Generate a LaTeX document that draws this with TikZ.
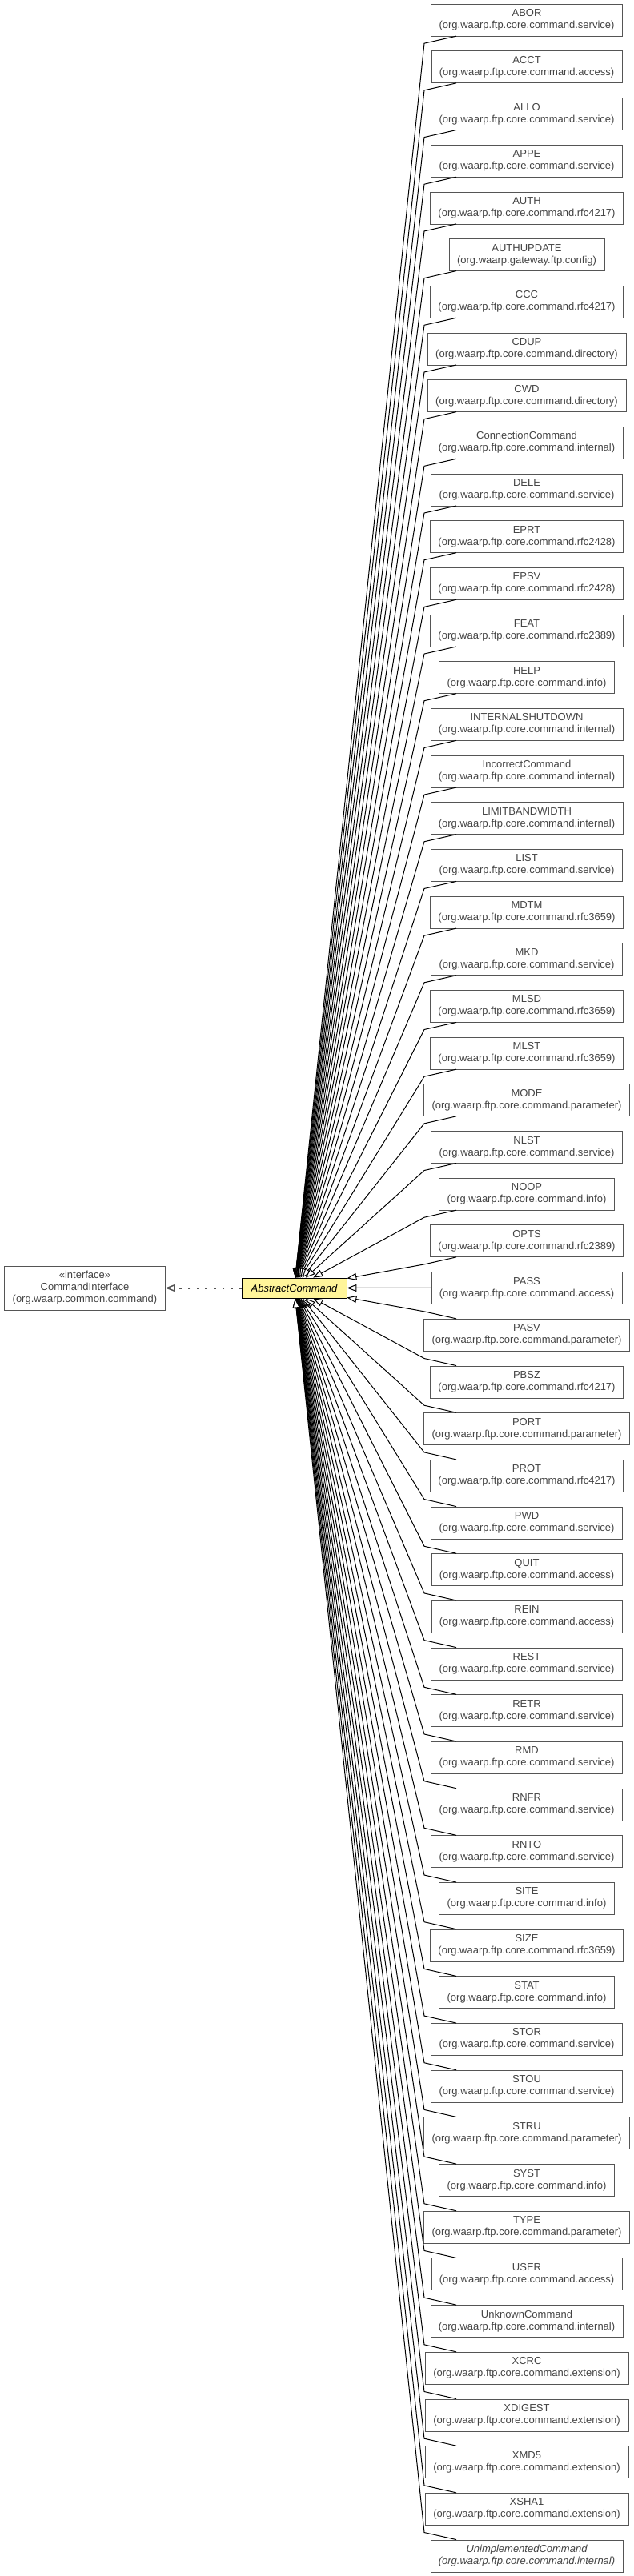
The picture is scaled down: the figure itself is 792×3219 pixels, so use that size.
\documentclass[tikz,border=0pt]{standalone}
\usepackage{fontspec}
\setmainfont{Liberation Sans}
\usetikzlibrary{arrows.meta,calc}
\definecolor{clsline}{HTML}{555555}
\definecolor{clstext}{HTML}{444444}
\definecolor{absfill}{HTML}{FFF59A}
\tikzstyle{cls} = [rectangle, draw=clsline, text=clstext, align=center,
    inner xsep=10pt, inner ysep=0pt, minimum height=40pt, font=\fontsize{13}{15}\selectfont]
\tikzstyle{abscls} = [rectangle, draw=black, fill=absfill, line width=0.8pt,
    minimum width=131pt, minimum height=25pt, font=\fontsize{13}{15}\selectfont\itshape]
\tikzstyle{inherit} = [draw, line width=1pt, -{Triangle[length=12pt, width=9pt, fill=white]}]
\tikzstyle{realize} = [draw=clsline, line width=2pt, dash pattern=on 2.5pt off 8.2pt,
    -{Triangle[length=12pt, width=9pt, fill=white, line width=1.5pt]}]

\begin{document}
\begin{tikzpicture}[x=1pt, y=-1pt]
    \useasboundingbox (0,0) rectangle (792,3219);
    \coordinate (xa) at (570,0);
    \coordinate (xb) at (530,0);

    \node[cls, minimum height=55pt] (ci) at (106,1609.5) {«interface»\\CommandInterface\\(org.waarp.common.command)};
    \node[abscls] (ac) at (367.5,1609.5) {AbstractCommand};
    \path[realize] (ac) -- (ci);

    % subclasses
    \foreach \nm/\pk [count=\i] in {ABOR/ftp.core.command.service, ACCT/ftp.core.command.access,
        ALLO/ftp.core.command.service, APPE/ftp.core.command.service, AUTH/ftp.core.command.rfc4217,
        AUTHUPDATE/gateway.ftp.config, CCC/ftp.core.command.rfc4217, CDUP/ftp.core.command.directory,
        CWD/ftp.core.command.directory, ConnectionCommand/ftp.core.command.internal,
        DELE/ftp.core.command.service, EPRT/ftp.core.command.rfc2428, EPSV/ftp.core.command.rfc2428,
        FEAT/ftp.core.command.rfc2389, HELP/ftp.core.command.info,
        INTERNALSHUTDOWN/ftp.core.command.internal, IncorrectCommand/ftp.core.command.internal,
        LIMITBANDWIDTH/ftp.core.command.internal, LIST/ftp.core.command.service,
        MDTM/ftp.core.command.rfc3659, MKD/ftp.core.command.service, MLSD/ftp.core.command.rfc3659,
        MLST/ftp.core.command.rfc3659, MODE/ftp.core.command.parameter, NLST/ftp.core.command.service,
        NOOP/ftp.core.command.info, OPTS/ftp.core.command.rfc2389, PASS/ftp.core.command.access,
        PASV/ftp.core.command.parameter, PBSZ/ftp.core.command.rfc4217, PORT/ftp.core.command.parameter,
        PROT/ftp.core.command.rfc4217, PWD/ftp.core.command.service, QUIT/ftp.core.command.access,
        REIN/ftp.core.command.access, REST/ftp.core.command.service, RETR/ftp.core.command.service,
        RMD/ftp.core.command.service, RNFR/ftp.core.command.service, RNTO/ftp.core.command.service,
        SITE/ftp.core.command.info, SIZE/ftp.core.command.rfc3659, STAT/ftp.core.command.info,
        STOR/ftp.core.command.service, STOU/ftp.core.command.service, STRU/ftp.core.command.parameter,
        SYST/ftp.core.command.info, TYPE/ftp.core.command.parameter, USER/ftp.core.command.access,
        UnknownCommand/ftp.core.command.internal, XCRC/ftp.core.command.extension,
        XDIGEST/ftp.core.command.extension, XMD5/ftp.core.command.extension,
        XSHA1/ftp.core.command.extension}
        \node[cls] (c\i) at (658,{25+(\i-1)*58.68}) {\nm\\(org.waarp.\pk)};
    \node[cls, font=\fontsize{13}{15}\selectfont\itshape] (c55) at (658,{25+54*58.68})
        {UnimplementedCommand\\(org.waarp.ftp.core.command.internal)};

    % inheritance
    \foreach \i in {1,...,27}
        \path[inherit] (c\i.south -| xa) -- ($(c\i.south -| xb)+(0,9)$) -- (ac);
    \path[inherit] (c28) -- (ac);
    \foreach \i in {29,...,55}
        \path[inherit] (c\i.north -| xa) -- ($(c\i.north -| xb)+(0,-9)$) -- (ac);
\end{tikzpicture}
\end{document}
